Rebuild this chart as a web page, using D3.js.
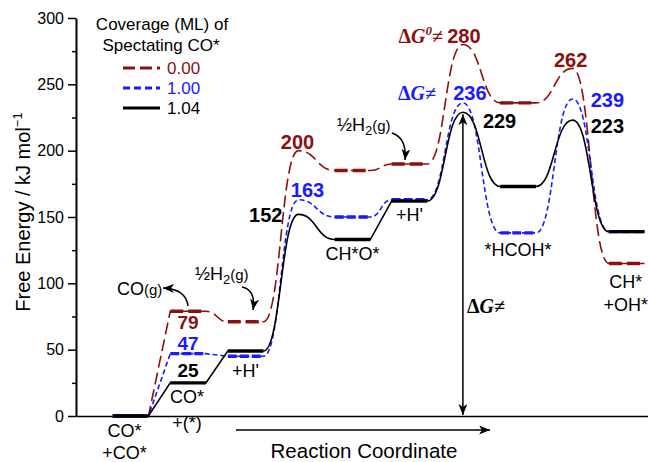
<!DOCTYPE html>
<html>
<head>
<meta charset="utf-8">
<script src="https://cdn.jsdelivr.net/npm/d3@7"></script>
<style>
  body { margin: 0; background: #fff; }
  text { font-family: "Liberation Sans", Arial, sans-serif; }
  .num { font-weight: bold; font-size: 20px; }
  .lbl { font-size: 18px; }
  .greek { font-family: "Liberation Serif", "Times New Roman", serif; font-weight: bold; font-size: 20px; }
</style>
</head>
<body>
<div id="chart"></div>
<script>
// states along the reaction coordinate (TS = transition state)
var states = ["CO*+CO*", "CO*+(*)", "+H'", "TS1", "CH*O*", "+H'", "TS2", "*HCOH*", "TS3", "CH*+OH*"];
var stateRC = [0, 1, 2, 2.92, 3.86, 4.85, 5.78, 6.74, 7.69, 8.63];
var isTS = [false, false, false, true, false, false, true, false, true, false];

// free energies (kJ/mol) for each coverage of spectating CO*
var coverages = ["0.00", "1.00", "1.04"];
var g000 = [0, 79, 71, 200, 185, 190, 280, 236, 262, 115];
var g100 = [0, 47, 45, 163, 150, 163, 236, 138, 239, 139];
var g104 = [0, 25, 49, 152, 133, 162, 229, 173, 223, 139];

var yTicks = [0, 50, 100, 150, 200, 250, 300];
var yMinor = [25, 75, 125, 175, 225, 275];

var W = 648, H = 462;
var RED = "#8b1010", BLUE = "#1a1aff";

var series = [
    {name: coverages[0], values: g000, color: RED,     dash: "12,5", plateauDash: "13,5", straight: [0]},
    {name: coverages[1], values: g100, color: BLUE,    dash: "5,3",  plateauDash: "9,3",  straight: [0, 1]},
    {name: coverages[2], values: g104, color: "#000",  dash: null,   plateauDash: null,   straight: [0, 1, 4]}
];

var svg = d3.select("#chart").append("svg")
    .attr("width", W).attr("height", H);

var x = d3.scaleLinear().domain([-0.95, 9.0]).range([76, 648]);
var y = d3.scaleLinear().domain([0, 300]).range([416, 18]);
var hw = 0.31; // half width of a level, in reaction coordinate units

// arrow head
var defs = svg.append("defs");
defs.append("marker")
    .attr("id", "head")
    .attr("markerUnits", "userSpaceOnUse")
    .attr("markerWidth", 12).attr("markerHeight", 10)
    .attr("refX", 11).attr("refY", 4.5)
    .attr("orient", "auto-start-reverse")
  .append("path")
    .attr("d", "M0,0 L11,4.5 L0,9 L3,4.5 Z")
    .attr("fill", "#000");

// axes
var yAxis = svg.append("g")
    .attr("transform", "translate(76,0)")
    .call(d3.axisLeft(y).tickValues(yTicks).tickSize(8).tickSizeOuter(0).tickPadding(4));
yAxis.select(".domain").attr("stroke-width", 2);
yAxis.selectAll(".tick line").attr("stroke-width", 1.5);
yAxis.selectAll(".tick text")
    .attr("font-size", 16)
    .attr("font-family", "Liberation Sans, Arial, sans-serif");

svg.append("g")
    .attr("transform", "translate(76,0)")
    .call(d3.axisLeft(y).tickValues(yMinor).tickSize(4).tickFormat(""))
    .call(function (g) { g.select(".domain").remove(); })
    .selectAll(".tick line").attr("stroke-width", 1.5);

svg.append("g")
    .attr("transform", "translate(0," + y(0) + ")")
    .call(d3.axisBottom(x).tickValues([]).tickSizeOuter(0))
    .select(".domain").attr("stroke-width", 1.5);

// y title
svg.append("text")
    .attr("transform", "translate(30," + 212 + ") rotate(-90)")
    .attr("text-anchor", "middle")
    .attr("font-size", 20)
    .text("Free Energy / kJ mol")
  .append("tspan")
    .attr("font-size", 13)
    .attr("dy", -8)
    .text("\u22121");

// reaction coordinate arrow
svg.append("line")
    .attr("x1", 236).attr("x2", 490)
    .attr("y1", 430).attr("y2", 430)
    .attr("stroke", "#000").attr("stroke-width", 1.5)
    .attr("marker-end", "url(#head)");
svg.append("text")
    .attr("x", 364).attr("y", 458)
    .attr("text-anchor", "middle")
    .attr("font-size", 20.5)
    .text("Reaction Coordinate");

// energy profiles
function profilePath(s) {
    var p = d3.path();
    var v = s.values;
    stateRC.forEach(function (rc, i) {
        var xl = isTS[i] ? x(rc) : x(rc - hw);
        var xr = isTS[i] ? x(rc) : x(rc + hw);
        var yy = y(v[i]);
        if (i === 0) {
            p.moveTo(xl, yy);
        } else {
            var px = isTS[i - 1] ? x(stateRC[i - 1]) : x(stateRC[i - 1] + hw);
            var py = y(v[i - 1]);
            if (s.straight.indexOf(i - 1) >= 0) {
                p.lineTo(xl, yy);
            } else {
                var xm = (px + xl) / 2;
                p.bezierCurveTo(xm, py, xm, yy, xl, yy);
            }
        }
        if (!isTS[i]) p.lineTo(xr, yy);
    });
    return p.toString();
}

var prof = svg.append("g");
series.forEach(function (s) {
    var g = prof.append("g");
    g.append("path")
        .attr("d", profilePath(s))
        .attr("fill", "none")
        .attr("stroke", s.color)
        .attr("stroke-width", 1.6)
        .attr("stroke-dasharray", s.dash);
    g.selectAll("line.level")
        .data(stateRC.map(function (rc, i) { return {rc: rc, v: s.values[i], ts: isTS[i]}; })
              .filter(function (d) { return !d.ts; }))
        .enter().append("line")
        .attr("class", "level")
        .attr("x1", function (d) { return x(d.rc - hw); })
        .attr("x2", function (d) { return x(d.rc + hw); })
        .attr("y1", function (d) { return y(d.v); })
        .attr("y2", function (d) { return y(d.v); })
        .attr("stroke", s.color)
        .attr("stroke-width", 3.4)
        .attr("stroke-dasharray", s.plateauDash);
});

// value labels: [series, state index, dx, dy, anchor, font size]
var valueLabels = [
    [0, 1, 0, 17.5, "middle", 19], [1, 1, 0, -3.5, "middle", 19], [2, 1, 0, -6, "middle", 19],
    [0, 3, -1, -2, "middle", 20], [1, 3, 9, -3, "middle", 20], [2, 3, -16, 8, "end", 20],
    [0, 6, 1, -2, "middle", 20], [1, 6, 7, -3, "middle", 20], [2, 6, 20, 16, "start", 20],
    [0, 8, -2, -1.5, "middle", 20], [1, 8, 18, 8, "start", 20], [2, 8, 18, 13, "start", 20]
];
svg.append("g").selectAll("text")
    .data(valueLabels)
    .enter().append("text")
    .attr("class", "num")
    .attr("x", function (d) { return x(stateRC[d[1]]) + d[2]; })
    .attr("y", function (d) { return y(series[d[0]].values[d[1]]) + d[3]; })
    .attr("text-anchor", function (d) { return d[4]; })
    .attr("font-size", function (d) { return d[5]; })
    .style("font-size", function (d) { return d[5] + "px"; })
    .attr("fill", function (d) { return series[d[0]].color; })
    .text(function (d) { return series[d[0]].values[d[1]]; });

// state labels
function stateLabel(i, dx, lines, baseline, gap) {
    var t = svg.append("text")
        .attr("class", "lbl")
        .attr("text-anchor", "middle");
    lines.forEach(function (ln, k) {
        t.append("tspan")
            .attr("x", x(stateRC[i]) + dx)
            .attr("y", baseline + k * (gap || 22.5))
            .text(ln);
    });
}
stateLabel(0, -6, ["CO*", "+CO*"], 437, 22);
stateLabel(1, -1, ["CO*", "+(*)"], 403, 26);
stateLabel(2, 0, ["+H'"], 377);
stateLabel(4, 0, ["CH*O*"], 260);
stateLabel(5, 0, ["+H'"], 221);
stateLabel(7, 0, ["*HCOH*"], 256);
stateLabel(9, -1, ["CH*", "+OH*"], 288, 23);

// gas-phase annotations with curved arrows
function gasLabel(xx, yy, parts) {
    var t = svg.append("text").attr("x", xx).attr("y", yy).attr("font-size", 18);
    parts.forEach(function (p) {
        var sp = t.append("tspan").text(p[0]);
        if (p[1]) sp.attr("font-size", p[1]);
        if (p[2]) sp.attr("dy", p[2]);
    });
}
gasLabel(117, 295, [["CO"], ["(g)", 15]]);
gasLabel(195, 280, [["\u00bdH"], ["2", 13, 4], ["(g)", 15, -4]]);
gasLabel(337, 131, [["\u00bdH"], ["2", 13, 4], ["(g)", 15, -4]]);

function curvedArrow(d) {
    svg.append("path")
        .attr("d", d)
        .attr("fill", "none")
        .attr("stroke", "#000")
        .attr("stroke-width", 1.5)
        .attr("marker-end", "url(#head)");
}
curvedArrow("M188,306 Q186,289 163,288");
curvedArrow("M242,287 Q256,290 253,310");
curvedArrow("M392,133 Q407,138 405,160");

// activation barrier arrow
svg.append("line")
    .attr("x1", x(stateRC[6])).attr("x2", x(stateRC[6]))
    .attr("y1", y(0) - 1).attr("y2", y(g104[6]) + 2)
    .attr("stroke", "#000").attr("stroke-width", 1.5)
    .attr("marker-start", "url(#head)")
    .attr("marker-end", "url(#head)");

function deltaG(xx, yy, color, sup, anchor) {
    var t = svg.append("text").attr("class", "greek")
        .attr("x", xx).attr("y", yy).attr("fill", color)
        .attr("text-anchor", anchor || "start");
    t.append("tspan").text("\u0394");
    t.append("tspan").attr("font-style", "italic").text("G");
    if (sup) t.append("tspan").attr("font-style", "italic").attr("font-size", 13).attr("dy", -8).text(sup);
    t.append("tspan").attr("dy", sup ? 8 : 0).attr("font-style", "italic").text("\u2260");
}
deltaG(443, 43, RED, "0", "end");
deltaG(436, 100, BLUE, null, "end");
deltaG(467, 313, "#000", null, "start");

// legend
var legend = svg.append("g");
legend.append("text").attr("x", 162).attr("y", 30).attr("text-anchor", "middle")
    .attr("font-size", 17).text("Coverage (ML) of");
legend.append("text").attr("x", 161).attr("y", 51).attr("text-anchor", "middle")
    .attr("font-size", 17).text("Spectating CO*");
var legendDash = ["12,5", "7,4", null];
series.forEach(function (s, i) {
    var ly = 68 + i * 20;
    legend.append("line")
        .attr("x1", 123).attr("x2", 160)
        .attr("y1", ly).attr("y2", ly)
        .attr("stroke", s.color).attr("stroke-width", 3)
        .attr("stroke-dasharray", legendDash[i]);
    legend.append("text")
        .attr("x", 167).attr("y", ly + 6)
        .attr("font-size", 17)
        .attr("fill", s.color)
        .text(s.name);
});
</script>
</body>
</html>
